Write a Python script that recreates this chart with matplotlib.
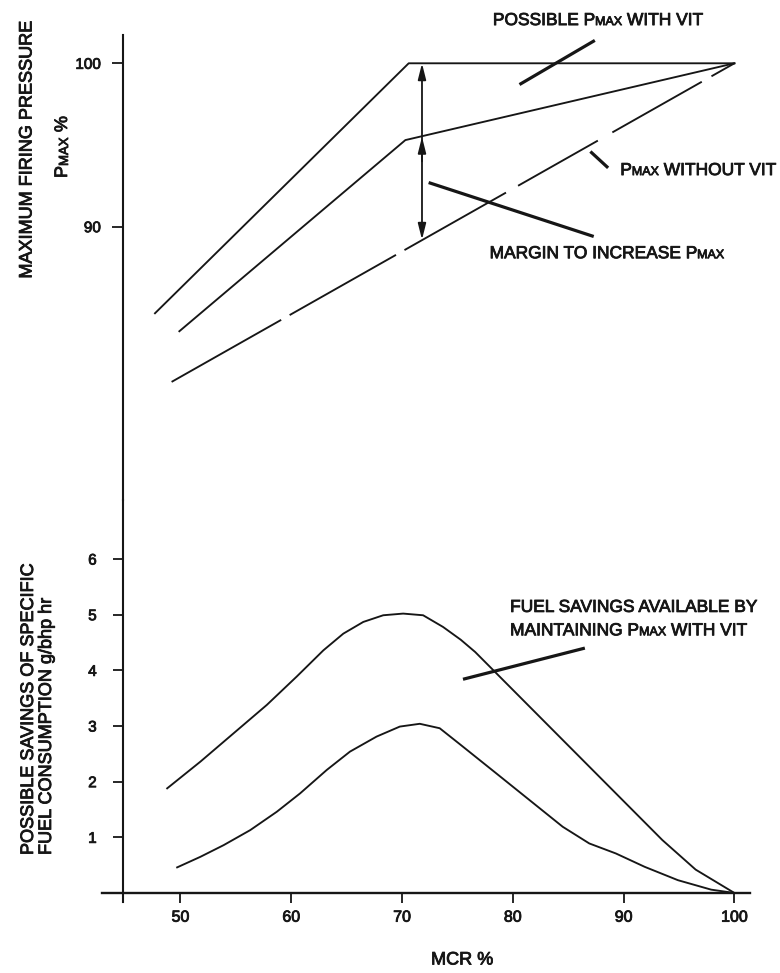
import matplotlib
matplotlib.use("Agg")
import matplotlib.pyplot as plt
import matplotlib.patheffects as pe

FONT = ["Liberation Sans Narrow", "Liberation Sans", "DejaVu Sans"]
plt.rcParams["font.family"] = FONT
INK = "#161616"
TXT_FX = [pe.withStroke(linewidth=0.6, foreground=INK)]

# ---------------- data ----------------
mcr_ticks = [50, 60, 70, 80, 90, 100]
pmax_ticks = [90, 100]
saving_ticks = [1, 2, 3, 4, 5, 6]

# top panel: maximum firing pressure, % of Pmax
with_vit_x = [47.7, 70.6, 100]
with_vit_y = [84.7, 100.0, 100.0]
mid_x = [49.9, 70.3, 100]
mid_y = [83.6, 95.3, 100.0]
without_vit_x = [100, 49.2]
without_vit_y = [100.0, 80.5]
margin_x = 71.8
margin_low, margin_mid, margin_high = 89.2, 95.5, 100.0

# bottom panel: possible savings, g/bhp hr
upper_x = [48.8, 51.8, 54.8, 57.8, 60.5, 62.9, 64.7, 66.5, 68.3, 70.1, 71.9, 73.7,
           75.3, 76.6, 78.5, 81.5, 84.5, 87.5, 90.5, 93.5, 96.5, 100]
upper_y = [1.88, 2.36, 2.87, 3.38, 3.89, 4.36, 4.66, 4.87, 4.99, 5.02, 4.99, 4.78,
           4.55, 4.33, 3.95, 3.35, 2.75, 2.15, 1.55, 0.95, 0.42, 0.0]
lower_x = [49.7, 51.8, 53.9, 56.3, 58.7, 60.8, 63.2, 65.3, 67.7, 69.8, 71.6, 73.4,
           75.3, 78.5, 81.5, 84.5, 86.9, 89.3, 91.9, 94.9, 97.9, 100]
lower_y = [0.46, 0.65, 0.86, 1.13, 1.46, 1.79, 2.21, 2.54, 2.81, 2.99, 3.04, 2.96,
           2.66, 2.15, 1.67, 1.19, 0.89, 0.71, 0.47, 0.23, 0.06, 0.0]

# annotation leaders (data units)
lead_possible = ([80.6, 87.4], [98.7, 101.4])
lead_without = ([87.0, 88.6], [94.6, 93.6])
lead_margin = ([72.4, 87.3], [92.7, 89.4])
lead_fuel = ([75.5, 86.5], [3.84, 4.40])

XLIM = (42.92, 101.41)
SPINE_X = 44.82

fig = plt.figure(figsize=(7.8, 9.73), dpi=100)
fig.patch.set_facecolor("white")
ax_top = fig.add_axes([0.1308, 0.4861, 0.8308, 0.4779])
ax_bot = fig.add_axes([0.1308, 0.07297, 0.8308, 0.4131])

for ax in (ax_top, ax_bot):
    ax.set_xlim(*XLIM)
    ax.set_facecolor("none")
    ax.spines["top"].set_visible(False)
    ax.spines["right"].set_visible(False)
    ax.spines["left"].set_position(("data", SPINE_X))
    ax.spines["left"].set_linewidth(1.5)
    ax.spines["left"].set_color(INK)

# ---- top ----
ax_top.set_ylim(73.27, 101.73)
ax_top.spines["bottom"].set_visible(False)
ax_top.set_xticks([])
ax_top.set_yticks(pmax_ticks)
ax_top.set_yticklabels([str(t) for t in pmax_ticks])
ax_top.tick_params(axis="y", direction="out", length=8, width=1.3, pad=8,
                   labelsize=11, colors=INK)

lw = 1.35
ax_top.plot(with_vit_x, with_vit_y, color=INK, lw=lw)
ax_top.plot(mid_x, mid_y, color=INK, lw=lw)
dash_pt = [19, 8, 74, 12, 66, 10, 84, 7, 88, 7, 120, 10]
ax_top.plot(without_vit_x, without_vit_y, color=INK, lw=lw,
            linestyle=(0, tuple(d / lw for d in dash_pt)))

ax_top.annotate("", xy=(margin_x, margin_high), xytext=(margin_x, margin_low),
                arrowprops=dict(arrowstyle="<|-|>,head_length=0.8,head_width=0.2",
                                color=INK, lw=1.3, mutation_scale=12,
                                shrinkA=0, shrinkB=0))
ax_top.annotate("", xy=(margin_x, margin_mid), xytext=(margin_x, margin_mid - 1.5),
                arrowprops=dict(arrowstyle="-|>,head_length=0.8,head_width=0.2",
                                color=INK, lw=1.3, mutation_scale=12,
                                shrinkA=0, shrinkB=0))

lead_lw = 2.3
for lx, ly in (lead_possible, lead_without, lead_margin):
    ax_top.plot(lx, ly, color=INK, lw=lead_lw, clip_on=False, solid_capstyle="butt")

# ---- bottom ----
ax_bot.set_ylim(-0.162, 7.06)
ax_bot.spines["bottom"].set_position(("data", 0))
ax_bot.spines["bottom"].set_linewidth(1.7)
ax_bot.spines["bottom"].set_color(INK)
ax_bot.set_xticks(mcr_ticks)
ax_bot.set_xticklabels([str(t) for t in mcr_ticks])
ax_bot.set_yticks(saving_ticks)
ax_bot.set_yticklabels([str(t) for t in saving_ticks])
ax_bot.tick_params(axis="x", direction="out", length=7, width=1.3, pad=5,
                   labelsize=11.5, colors=INK)
ax_bot.tick_params(axis="y", direction="out", length=7, width=1.3, pad=12,
                   labelsize=11, colors=INK)

ax_bot.plot(upper_x, upper_y, color=INK, lw=lw)
ax_bot.plot(lower_x, lower_y, color=INK, lw=lw)
ax_bot.plot(*lead_fuel, color=INK, lw=lead_lw, solid_capstyle="butt")

for ax in (ax_top, ax_bot):
    for lbl in ax.get_xticklabels() + ax.get_yticklabels():
        lbl.set_path_effects(TXT_FX)


# ---- rich text helper: "P" + small "MAX" ----
def rich(ax, xy, pieces, coords="data", rotation=0, color=INK):
    s, fs = pieces[0]
    common = dict(color=color, annotation_clip=False, path_effects=TXT_FX)
    if rotation == 0:
        prev = ax.annotate(s, xy=xy, xycoords=coords, fontsize=fs,
                           ha="left", va="baseline", **common)
    else:
        prev = ax.annotate(s, xy=xy, xycoords=coords, fontsize=fs,
                           ha="left", va="baseline", rotation=90,
                           rotation_mode="anchor", **common)
    for s, fs in pieces[1:]:
        if rotation == 0:
            prev = ax.annotate(s, xy=(1, 0), xycoords=prev, fontsize=fs,
                               ha="left", va="bottom", **common)
        else:
            prev = ax.annotate(s, xy=(1, 1), xycoords=prev, fontsize=fs,
                               ha="right", va="bottom", rotation=90, **common)
    return prev


BIG, SMALL = 12.5, 9.0
rich(ax_top, (78.2, 102.34), [("POSSIBLE P", BIG), ("MAX", SMALL), (" WITH VIT", BIG)])
rich(ax_top, (89.7, 93.16), [("P", BIG), ("MAX", SMALL), (" WITHOUT VIT", BIG)])
rich(ax_top, (77.9, 88.07), [("MARGIN TO INCREASE P", BIG), ("MAX", SMALL)])
rich(ax_bot, (79.75, 5.05), [("FUEL SAVINGS AVAILABLE BY", BIG)])
rich(ax_bot, (79.75, 4.63), [("MAINTAINING P", BIG), ("MAX", SMALL), (" WITH VIT", BIG)])


def px(x, y):
    return (x / 780.0, 1 - y / 973.0)


fig.text(*px(27, 150), "MAXIMUM FIRING PRESSURE", rotation=90, ha="center",
         va="center", fontsize=13, color=INK, path_effects=TXT_FX)
rich(ax_top, px(67, 178), [("P", 13), ("MAX", 9.5), (" %", 13)],
     coords="figure fraction", rotation=90)
fig.text(*px(33, 855), "POSSIBLE SAVINGS OF SPECIFIC", rotation=90,
         rotation_mode="anchor", ha="left", va="baseline", fontsize=13, color=INK,
         path_effects=TXT_FX)
fig.text(*px(51, 855), "FUEL CONSUMPTION g/bhp hr", rotation=90,
         rotation_mode="anchor", ha="left", va="baseline", fontsize=13, color=INK,
         path_effects=TXT_FX)
fig.text(*px(462, 960), "MCR %", ha="center", va="center", fontsize=13, color=INK,
         path_effects=TXT_FX)

fig.savefig("out.png", dpi=100, facecolor="white")
